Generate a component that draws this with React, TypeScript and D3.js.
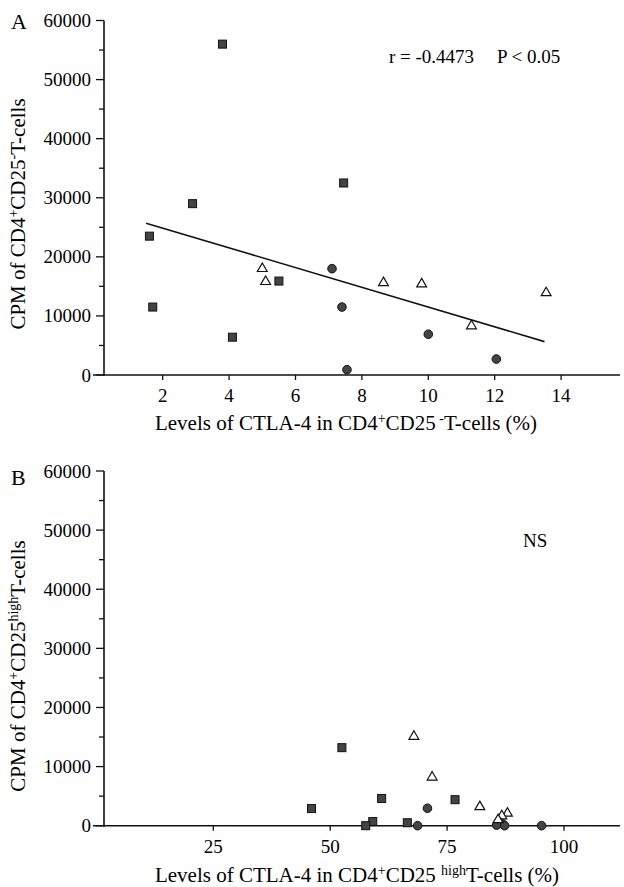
import React, { useRef, useEffect } from 'react';
import * as d3 from 'd3';

// Panel A: CTLA-4 in CD4+CD25- T-cells (%) vs CPM
const squaresA = [
  [3.8, 56000], [2.9, 29000], [1.6, 23500], [1.7, 11500], [4.1, 6400], [5.5, 15900], [7.45, 32500],
];
const trianglesA = [
  [5.0, 18000], [5.1, 15800], [8.65, 15600], [9.8, 15400], [11.3, 8300], [13.55, 13900],
];
const circlesA = [
  [7.1, 18000], [7.4, 11500], [10.0, 6900], [12.05, 2700], [7.55, 900],
];
const fitA = [[1.5, 25700], [13.5, 5650]];
const xTicksA = [2, 4, 6, 8, 10, 12, 14];

// Panel B: CTLA-4 in CD4+CD25high T-cells (%) vs CPM
const squaresB = [
  [52.5, 13200], [46, 2900], [61, 4600], [76.7, 4400], [59.1, 700], [57.6, 0], [66.5, 500],
];
const trianglesB = [
  [67.9, 15100], [71.8, 8200], [82, 3200], [87.9, 2100], [86.7, 1650], [85.9, 1000],
];
const circlesB = [
  [70.8, 2950], [68.7, 0], [95.2, 0], [86.0, 500], [86.9, 300], [87.3, 0], [85.6, 100],
];
const xTicksB = [25, 50, 75, 100];

const yTicks = [0, 10000, 20000, 30000, 40000, 50000, 60000];
const yMinorTicks = [5000, 15000, 25000, 35000, 45000, 55000];

const FONT = '"Liberation Serif", "Times New Roman", serif';

function App() {
  const ref = useRef(null);

  useEffect(() => {
    const svg = d3.select(ref.current);
    svg.selectAll('*').remove();

    const drawPanel = (cfg) => {
      const g = svg.append('g');
      const x = d3.scaleLinear().domain(cfg.xDomain).range(cfg.xRange);
      const y = d3.scaleLinear().domain([0, 60000]).range(cfg.yRange);
      const y0 = y(0);
      const axisX = 104;

      // axes
      g.append('line').attr('x1', axisX).attr('x2', axisX)
        .attr('y1', y(60000)).attr('y2', y0 + 1)
        .attr('stroke', '#111').attr('stroke-width', 1.6);
      g.append('line').attr('x1', 93).attr('x2', 620)
        .attr('y1', y0).attr('y2', y0)
        .attr('stroke', '#111').attr('stroke-width', 1.6);

      g.selectAll('.ytick').data(yTicks).enter().append('line')
        .attr('x1', axisX - 8).attr('x2', axisX)
        .attr('y1', d => y(d)).attr('y2', d => y(d))
        .attr('stroke', '#111').attr('stroke-width', 1.3);
      g.selectAll('.yminor').data(yMinorTicks).enter().append('line')
        .attr('x1', axisX - 5).attr('x2', axisX)
        .attr('y1', d => y(d)).attr('y2', d => y(d))
        .attr('stroke', '#111').attr('stroke-width', 1.3);
      g.selectAll('.ylab').data(yTicks).enter().append('text')
        .attr('x', 91).attr('y', d => y(d) + 6.5)
        .attr('text-anchor', 'end')
        .attr('font-family', FONT).attr('font-size', 19)
        .text(d => d);

      g.selectAll('.xtick').data(cfg.xTicks).enter().append('line')
        .attr('x1', d => x(d)).attr('x2', d => x(d))
        .attr('y1', y0).attr('y2', y0 + 5)
        .attr('stroke', '#111').attr('stroke-width', 1.3);
      g.selectAll('.xlab').data(cfg.xTicks).enter().append('text')
        .attr('x', d => x(d)).attr('y', y0 + 27)
        .attr('text-anchor', 'middle')
        .attr('font-family', FONT).attr('font-size', 19)
        .text(d => d);

      // fit line
      if (cfg.fit) {
        g.append('path').datum(cfg.fit)
          .attr('fill', 'none').attr('stroke', '#111').attr('stroke-width', 1.6)
          .attr('d', d3.line().x(d => x(d[0])).y(d => y(d[1])));
      }

      // markers
      g.selectAll('.sq').data(cfg.squares).enter().append('rect')
        .attr('x', d => x(d[0]) - 4).attr('y', d => y(d[1]) - 4)
        .attr('width', 8).attr('height', 8)
        .attr('fill', '#444').attr('stroke', '#111').attr('stroke-width', 1);
      g.selectAll('.ci').data(cfg.circles).enter().append('circle')
        .attr('cx', d => x(d[0])).attr('cy', d => y(d[1])).attr('r', 4.3)
        .attr('fill', '#444').attr('stroke', '#111').attr('stroke-width', 1);
      const tri = d3.symbol().type(d3.symbolTriangle).size(42);
      g.selectAll('.tr').data(cfg.triangles).enter().append('path')
        .attr('transform', d => `translate(${x(d[0])},${y(d[1])})`)
        .attr('d', tri)
        .attr('fill', 'white').attr('stroke', '#111').attr('stroke-width', 1.2);

      // panel letter
      g.append('text').attr('x', 11).attr('y', cfg.letterY)
        .attr('font-family', FONT).attr('font-size', 22)
        .text(cfg.letter);

      // axis titles
      const yl = g.append('text')
        .attr('transform', `translate(25,${cfg.yLabelY}) rotate(-90)`)
        .attr('text-anchor', 'middle')
        .attr('font-family', FONT).attr('font-size', 21);
      cfg.yLabel.forEach(p => {
        yl.append('tspan').attr('dy', p.dy || 0)
          .attr('font-size', p.sup ? 14 : 21).text(p.t);
      });
      const xl = g.append('text')
        .attr('x', cfg.xLabelX).attr('y', cfg.xLabelY)
        .attr('text-anchor', 'middle')
        .attr('font-family', FONT).attr('font-size', 21);
      cfg.xLabel.forEach(p => {
        xl.append('tspan').attr('dy', p.dy || 0)
          .attr('font-size', p.sup ? 14 : 21).text(p.t);
      });

      return g;
    };

    const gA = drawPanel({
      xDomain: [0, 16], xRange: [96.3, 627.5], yRange: [375, 20.5],
      xTicks: xTicksA, squares: squaresA, triangles: trianglesA, circles: circlesA,
      fit: fitA, letter: 'A', letterY: 29, yLabelY: 214,
      yLabel: [
        { t: 'CPM of CD4' }, { t: '+', sup: true, dy: -7 }, { t: 'CD25', dy: 7 },
        { t: '-', sup: true, dy: -7 }, { t: 'T-cells', dy: 7 },
      ],
      xLabelX: 346, xLabelY: 430,
      xLabel: [
        { t: 'Levels of CTLA-4 in CD4' }, { t: '+', sup: true, dy: -7 }, { t: 'CD25', dy: 7 },
        { t: ' -', sup: true, dy: -7 }, { t: 'T-cells (%)', dy: 7 },
      ],
    });
    gA.append('text').attr('x', 389).attr('y', 63)
      .attr('font-family', FONT).attr('font-size', 19).text('r = -0.4473');
    gA.append('text').attr('x', 497).attr('y', 63)
      .attr('font-family', FONT).attr('font-size', 19).text('P < 0.05');

    const gB = drawPanel({
      xDomain: [0, 112], xRange: [96.4, 620.1], yRange: [825.7, 471],
      xTicks: xTicksB, squares: squaresB, triangles: trianglesB, circles: circlesB,
      fit: null, letter: 'B', letterY: 485, yLabelY: 666,
      yLabel: [
        { t: 'CPM of CD4' }, { t: '+', sup: true, dy: -7 }, { t: 'CD25', dy: 7 },
        { t: 'high', sup: true, dy: -7 }, { t: 'T-cells', dy: 7 },
      ],
      xLabelX: 357, xLabelY: 882,
      xLabel: [
        { t: 'Levels of CTLA-4 in CD4' }, { t: '+', sup: true, dy: -7 }, { t: 'CD25 ', dy: 7 },
        { t: 'high', sup: true, dy: -7 }, { t: 'T-cells (%)', dy: 7 },
      ],
    });
    gB.append('text').attr('x', 523).attr('y', 547)
      .attr('font-family', FONT).attr('font-size', 19).text('NS');
  }, []);

  return (
    <svg ref={ref} width={624} height={887}
      style={{ position: 'absolute', left: 0, top: 0, background: 'white' }} />
  );
}

export default App;
